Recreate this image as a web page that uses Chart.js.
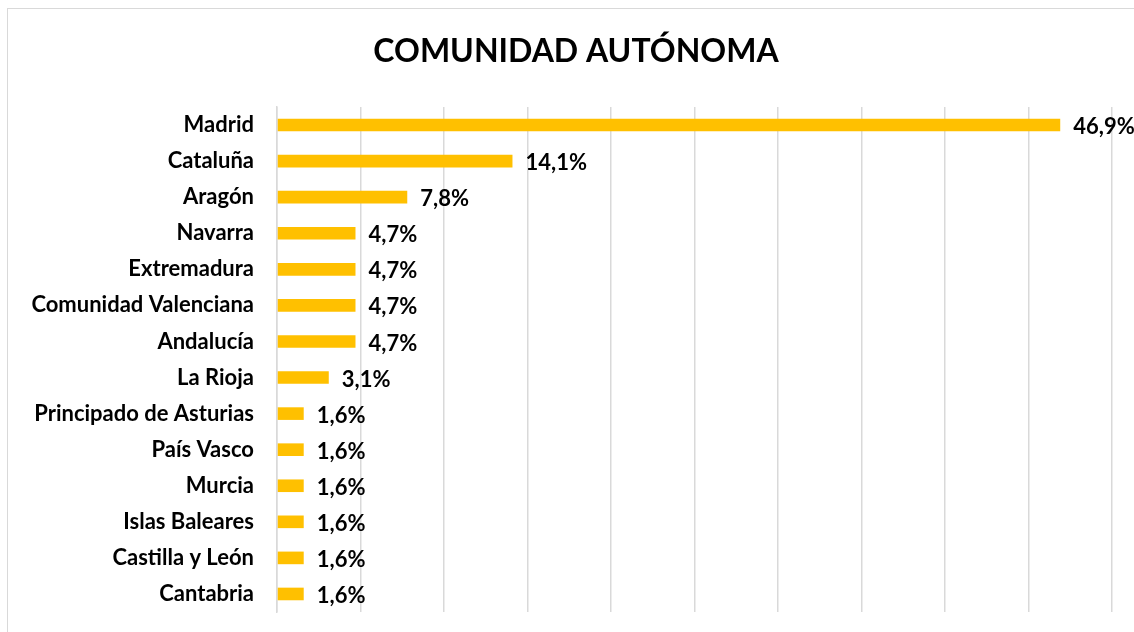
<!DOCTYPE html>
<html>
<head>
<meta charset="utf-8">
<script src="https://cdn.jsdelivr.net/npm/chart.js@4.4.2/dist/chart.umd.min.js"></script>
<style>
  html, body { margin: 0; padding: 0; background: #fff; }
  #wrap { position: relative; width: 1134px; height: 632px; overflow: hidden; }
  #frame { position: absolute; left: 7px; top: 8px; width: 1150px; height: 650px; border: 1px solid #d9d9d9; }
  canvas { position: absolute; left: 0; top: 0; }
</style>
</head>
<body>
<div id="wrap">
  <div id="frame"></div>
  <canvas id="chart" width="1134" height="632"></canvas>
</div>
<script>
const regions = [
  'Madrid', 'Cataluña', 'Aragón', 'Navarra', 'Extremadura', 'Comunidad Valenciana',
  'Andalucía', 'La Rioja', 'Principado de Asturias', 'País Vasco', 'Murcia',
  'Islas Baleares', 'Castilla y León', 'Cantabria'
];
const shares = [46.9, 14.1, 7.8, 4.7, 4.7, 4.7, 4.7, 3.1, 1.6, 1.6, 1.6, 1.6, 1.6, 1.6];
const chartTitle = 'COMUNIDAD AUTÓNOMA';

const FONT = 'Lato, "Liberation Sans", sans-serif';

// labels at the end of each bar, e.g. "46,9%"
const barLabels = {
  id: 'barLabels',
  afterDatasetsDraw(chart) {
    const ctx = chart.ctx;
    const meta = chart.getDatasetMeta(0);
    ctx.save();
    ctx.font = 'bold 22px ' + FONT;
    ctx.fillStyle = '#000';
    ctx.textAlign = 'left';
    ctx.textBaseline = 'middle';
    meta.data.forEach((bar, i) => {
      const text = shares[i].toFixed(1).replace('.', ',') + '%';
      ctx.fillText(text, bar.x + 13, bar.y + 2);
    });
    ctx.restore();
  }
};

// title centred on the whole frame, not on the canvas minus padding
const frameTitle = {
  id: 'frameTitle',
  afterDraw(chart) {
    const ctx = chart.ctx;
    ctx.save();
    ctx.font = 'bold 32px ' + FONT;
    ctx.fillStyle = '#000';
    ctx.textAlign = 'center';
    ctx.textBaseline = 'middle';
    ctx.fillText(chartTitle, 576, 52);
    ctx.restore();
  }
};

new Chart(document.getElementById('chart'), {
  type: 'bar',
  data: {
    labels: regions,
    datasets: [{
      data: shares,
      backgroundColor: '#FFC000',
      borderWidth: 0,
      barPercentage: 0.35,
      categoryPercentage: 1
    }]
  },
  options: {
    indexAxis: 'y',
    responsive: false,
    animation: false,
    layout: {
      padding: { top: 107, right: 22, bottom: 20, left: 0 }
    },
    scales: {
      x: {
        min: 0,
        max: 50,
        ticks: { display: false, stepSize: 5 },
        grid: { color: '#d9d9d9', lineWidth: 1.5, drawTicks: false },
        border: { display: false }
      },
      y: {
        afterFit: (scale) => {
          scale.width = 277;
          scale.paddingTop = 0;
          scale.paddingBottom = 0;
        },
        ticks: {
          color: '#000',
          padding: 23,
          font: { family: FONT, size: 22, weight: 'bold' }
        },
        grid: { display: false, drawTicks: false },
        border: { color: '#d9d9d9', width: 1.5 }
      }
    },
    plugins: {
      legend: { display: false },
      tooltip: { enabled: false },
      title: { display: false }
    }
  },
  plugins: [barLabels, frameTitle]
});
</script>
</body>
</html>
